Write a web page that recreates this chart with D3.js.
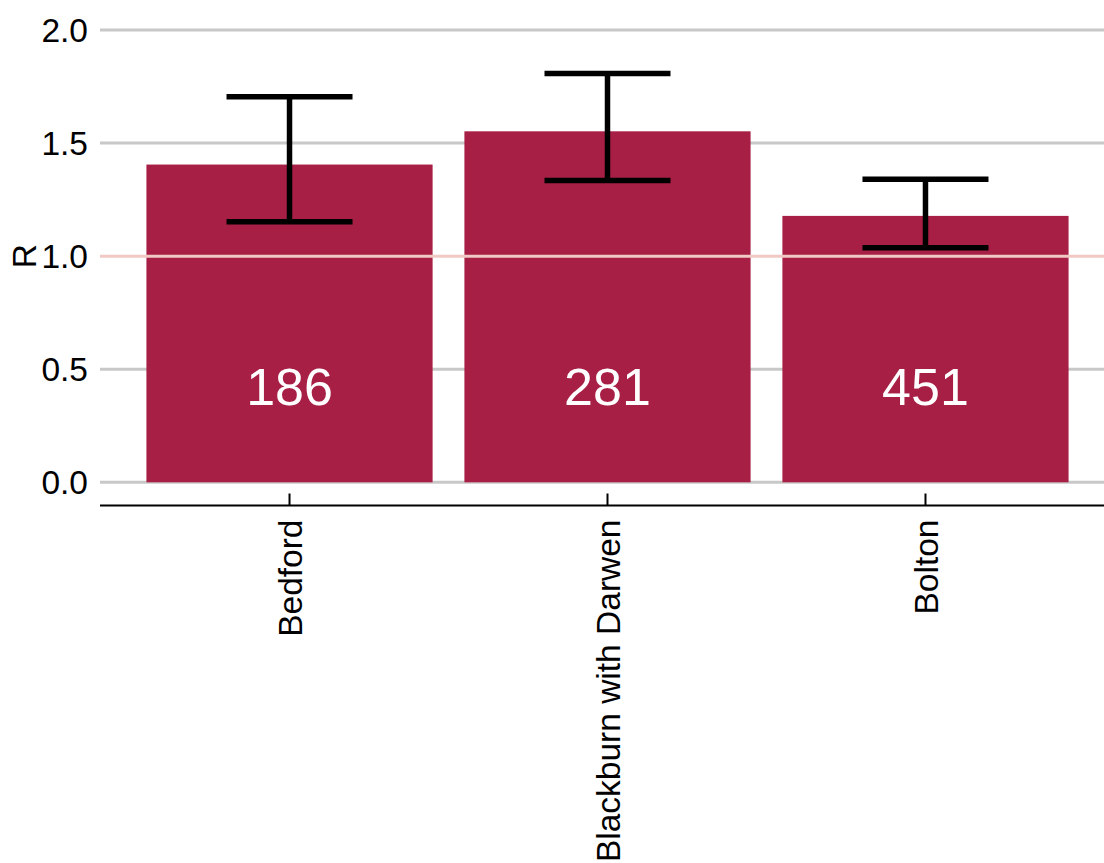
<!DOCTYPE html>
<html>
<head>
<meta charset="utf-8">
<script src="https://cdn.jsdelivr.net/npm/d3@7"></script>
<style>
  html, body { margin: 0; padding: 0; background: #fff; }
  svg { display: block; font-family: "Liberation Sans", Arial, sans-serif; }
</style>
</head>
<body>
<svg id="chart" width="1104" height="863"></svg>
<script>
// Reproduction number by area, with uncertainty interval and case counts
const areas = ["Bedford", "Blackburn with Darwen", "Bolton"];
const rMean = [1.405, 1.552, 1.178];
const rLower = [1.152, 1.335, 1.037];
const rUpper = [1.705, 1.808, 1.340];
const cases = [186, 281, 451];
const yTicks = [0.0, 0.5, 1.0, 1.5, 2.0];

const svg = d3.select("#chart");
const W = 1104, H = 863;

const x = d3.scaleBand()
  .domain(areas)
  .range([100, 1115])
  .paddingInner(0.1)
  .paddingOuter(0.146);

const y = d3.scaleLinear()
  .domain([0, 2])
  .range([482.3, 30]);

const barColor = "#a81f45";
const labelSize = 33.5;

// horizontal gridlines (behind bars)
svg.append("g")
  .selectAll("line")
  .data(yTicks.filter(t => t !== 1))
  .join("line")
  .attr("x1", 100).attr("x2", W)
  .attr("y1", d => y(d)).attr("y2", d => y(d))
  .attr("stroke", "#c8c8c8")
  .attr("stroke-width", 3);

// y tick labels
svg.append("g")
  .selectAll("text")
  .data(yTicks)
  .join("text")
  .attr("x", 88)
  .attr("y", d => y(d))
  .attr("dy", "0.36em")
  .attr("text-anchor", "end")
  .attr("font-size", labelSize)
  .attr("fill", "#000")
  .text(d => d3.format(".1f")(d));

// y axis title
svg.append("text")
  .attr("transform", `translate(36,${y(1)}) rotate(-90)`)
  .attr("text-anchor", "middle")
  .attr("font-size", labelSize)
  .attr("fill", "#000")
  .text("R");

// bars
svg.append("g")
  .selectAll("rect")
  .data(areas)
  .join("rect")
  .attr("x", d => x(d))
  .attr("width", x.bandwidth())
  .attr("y", (d, i) => y(rMean[i]))
  .attr("height", (d, i) => y(0) - y(rMean[i]))
  .attr("fill", barColor);

// reference line at R = 1 (drawn over bars)
svg.append("line")
  .attr("x1", 100).attr("x2", W)
  .attr("y1", y(1)).attr("y2", y(1))
  .attr("stroke", "#f0c9c4")
  .attr("stroke-width", 3);

// error bars
const capHalf = 63;
const eb = svg.append("g")
  .attr("stroke", "#000")
  .attr("stroke-width", 5.5);
areas.forEach((a, i) => {
  const cx = x(a) + x.bandwidth() / 2;
  eb.append("line")
    .attr("x1", cx).attr("x2", cx)
    .attr("y1", y(rUpper[i])).attr("y2", y(rLower[i]));
  eb.append("line")
    .attr("x1", cx - capHalf).attr("x2", cx + capHalf)
    .attr("y1", y(rUpper[i])).attr("y2", y(rUpper[i]));
  eb.append("line")
    .attr("x1", cx - capHalf).attr("x2", cx + capHalf)
    .attr("y1", y(rLower[i])).attr("y2", y(rLower[i]));
});

// case counts inside bars
svg.append("g")
  .selectAll("text")
  .data(areas)
  .join("text")
  .attr("x", d => x(d) + x.bandwidth() / 2)
  .attr("y", y(0.342))
  .attr("text-anchor", "middle")
  .attr("font-size", 52)
  .attr("fill", "#fff")
  .text((d, i) => cases[i]);

// x axis
const axisY = 505.5;
svg.append("line")
  .attr("x1", 100).attr("x2", W)
  .attr("y1", axisY).attr("y2", axisY)
  .attr("stroke", "#000")
  .attr("stroke-width", 2);

svg.append("g")
  .selectAll("line")
  .data(areas)
  .join("line")
  .attr("x1", d => x(d) + x.bandwidth() / 2)
  .attr("x2", d => x(d) + x.bandwidth() / 2)
  .attr("y1", axisY - 12).attr("y2", axisY)
  .attr("stroke", "#000")
  .attr("stroke-width", 2);

svg.append("g")
  .selectAll("text")
  .data(areas)
  .join("text")
  .attr("transform", d => `translate(${x(d) + x.bandwidth() / 2},${axisY + 14}) rotate(-90)`)
  .attr("text-anchor", "end")
  .attr("dy", "0.36em")
  .attr("font-size", labelSize)
  .attr("fill", "#000")
  .text(d => d);
</script>
</body>
</html>
